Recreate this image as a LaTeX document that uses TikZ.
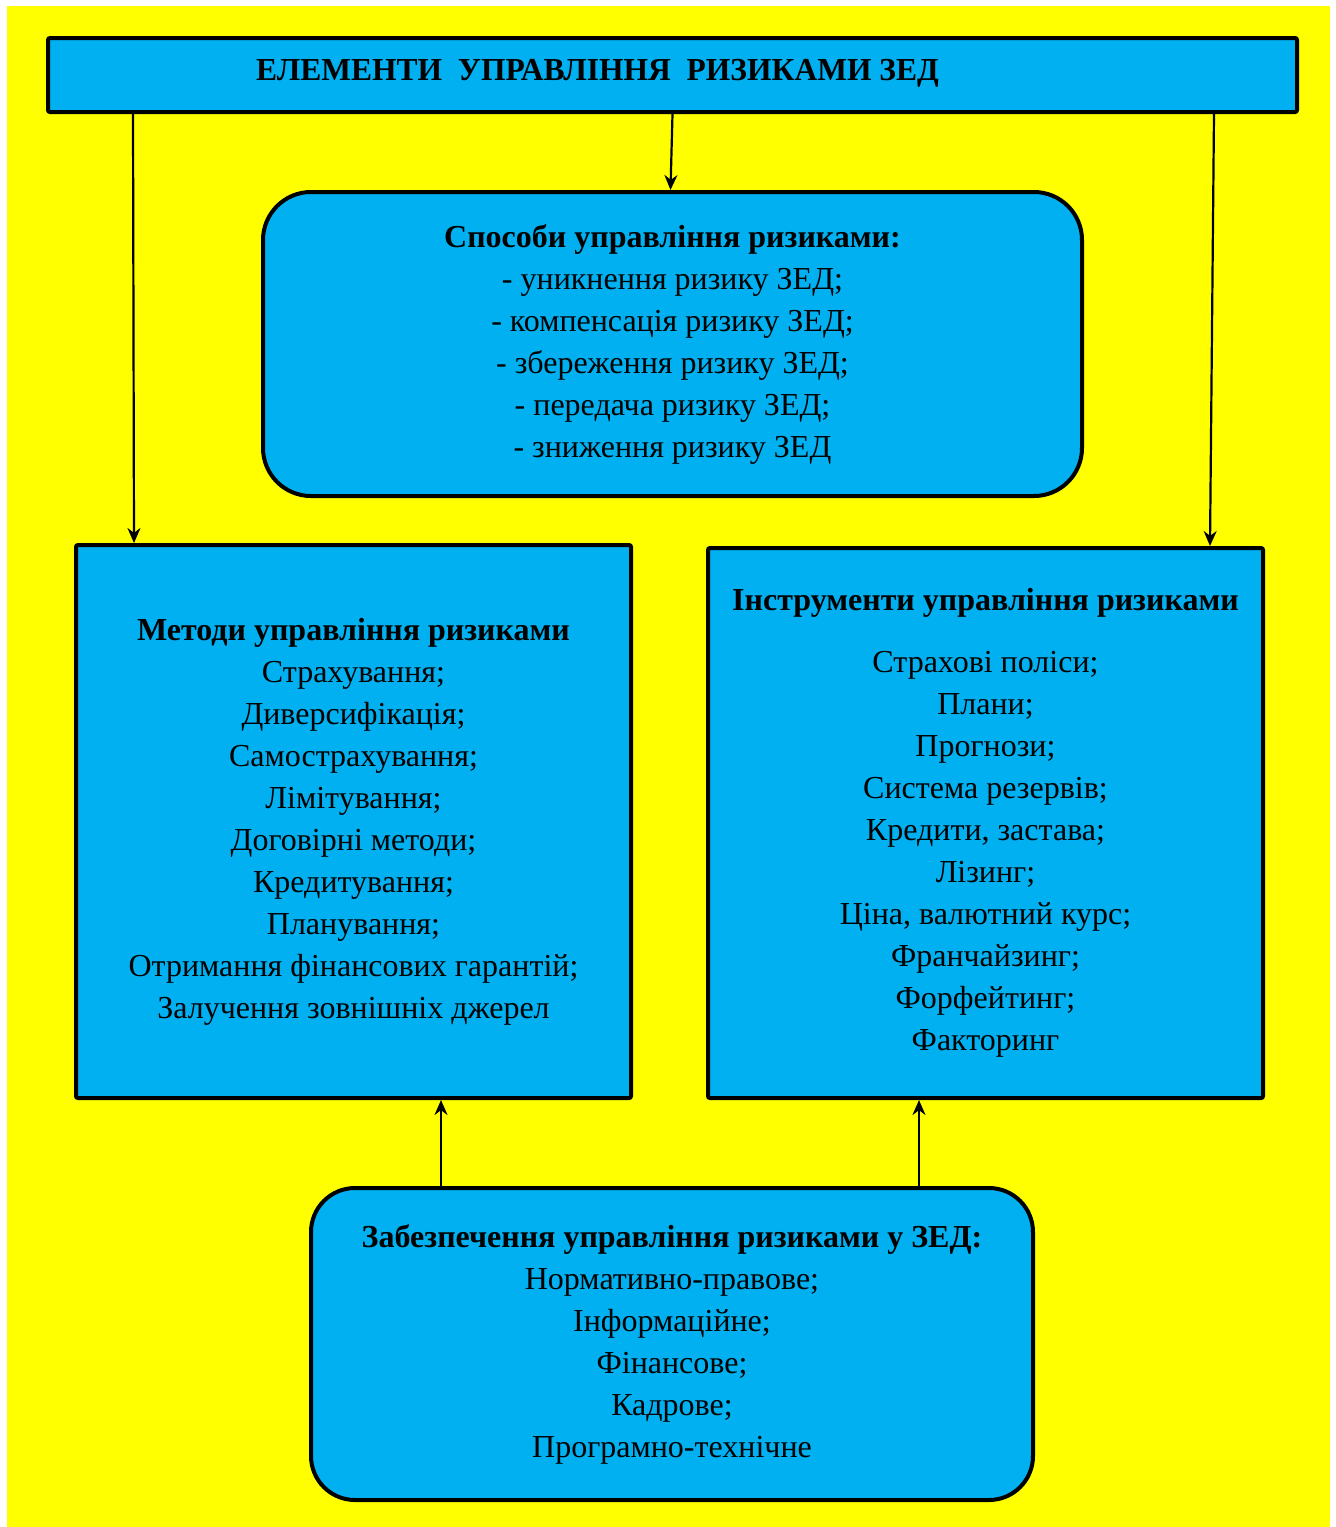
\documentclass[tikz,border=0pt]{standalone}
\usepackage{fontspec}
\setmainfont{Liberation Serif}
\newfontfamily\titlefont[FakeStretch=0.985]{Liberation Serif}
\usepackage{tikz}
\usetikzlibrary{arrows.meta, positioning, calc}
\definecolor{bgYellow}{HTML}{FFFF00}
\definecolor{boxBlue}{HTML}{00B0F0}
\tikzstyle{mainbox} = [rectangle, draw=black, line width=2pt, fill=boxBlue,
  rounded corners=1pt, align=center, font=\fontsize{16}{21}\selectfont, inner sep=0pt]
\tikzstyle{roundbox} = [mainbox, rounded corners=24pt]
\tikzstyle{arw} = [-{Stealth[length=7.5pt, width=6.5pt]}, line width=1.1pt, color=black]

\begin{document}
\begin{tikzpicture}[x=0.5pt, y=-0.5pt]
  % Background
  \useasboundingbox (0,0) rectangle (1336,1527);
  \fill[bgYellow] (7,6) rectangle (1330,1527);

  % Title
  \node[mainbox, minimum width=624.5pt, minimum height=37pt] (top) at (672.5,75)
    {\raisebox{5pt}{\titlefont\bfseries ЕЛЕМЕНТИ~~УПРАВЛІННЯ~~РИЗИКАМИ ЗЕД}\hspace{75pt}};

  % Ways
  \node[roundbox, minimum width=409.5pt, minimum height=152pt] (ways) at (672.5,344)
    {\textbf{Способи управління ризиками:}\\
     -~уникнення ризику ЗЕД;\\
     -~компенсація ризику ЗЕД;\\
     -~збереження ризику ЗЕД;\\
     -~передача ризику ЗЕД;\\
     -~зниження ризику ЗЕД};

  % Methods
  \node[mainbox, minimum width=277.5pt, minimum height=276.5pt] (meth) at (353.5,821.5)
    {\textbf{Методи управління ризиками}\\
     Страхування;\\
     Диверсифікація;\\
     Самострахування;\\
     Лімітування;\\
     Договірні методи;\\
     Кредитування;\\
     Планування;\\
     Отримання фінансових гарантій;\\
     Залучення зовнішніх джерел};

  % Tools
  \node[mainbox, minimum width=277.5pt, minimum height=275pt] (tools) at (985.5,823)
    {\textbf{Інструменти управління ризиками}\\[10pt]
     Страхові поліси;\\
     Плани;\\
     Прогнози;\\
     Система резервів;\\
     Кредити, застава;\\
     Лізинг;\\
     Ціна, валютний курс;\\
     Франчайзинг;\\
     Форфейтинг;\\
     Факторинг};

  % Support
  \node[roundbox, rounded corners=22pt, minimum width=361pt, minimum height=156pt] (supp) at (672,1344)
    {\textbf{Забезпечення управління ризиками у ЗЕД:}\\
     Нормативно-правове;\\
     Інформаційне;\\
     Фінансове;\\
     Кадрове;\\
     Програмно-технічне};

  % Arrows
  \draw[arw] ([xshift=43.5pt]top.south west) -- ([xshift=30pt]meth.north west);
  \draw[arw] (top.south) -- ([xshift=-1pt]ways.north);
  \draw[arw] ([xshift=-42.5pt]top.south east) -- ([xshift=-27.5pt]tools.north east);
  \draw[arw] ([xshift=-115.5pt]supp.north) -- ([xshift=-115.5pt]supp.north |- meth.south);
  \draw[arw] ([xshift=123.5pt]supp.north) -- ([xshift=123.5pt]supp.north |- tools.south);
\end{tikzpicture}
\end{document}
